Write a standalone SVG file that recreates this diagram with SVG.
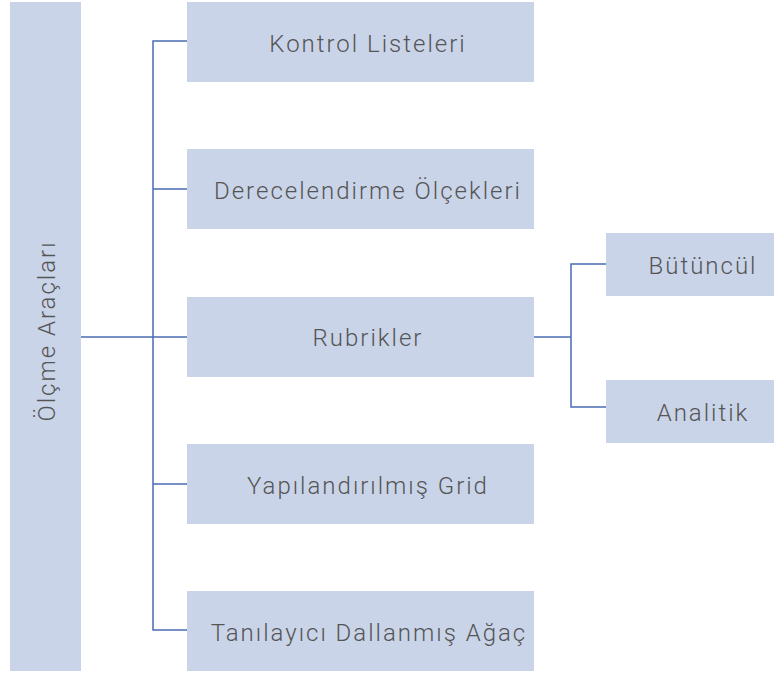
<svg xmlns="http://www.w3.org/2000/svg" width="774" height="675" viewBox="0 0 774 675">
<style>
.box{fill:#c9d4e8}
.t{font-family:Roboto,"Liberation Sans",sans-serif;font-weight:300;font-size:24px;letter-spacing:2px;fill:#555555;text-anchor:middle;dominant-baseline:central}
.c{stroke:#4a6cb3;stroke-width:1.5;fill:none}
</style>
<rect width="774" height="675" fill="#ffffff"/>
<g id="root"><rect class="box" x="10" y="2" width="71" height="669"/><text class="t" transform="translate(47 331) rotate(-90)">Ölçme Araçları</text></g>
<g id="n1"><rect class="box" x="187" y="2" width="347" height="80"/><text class="t" x="368" y="44">Kontrol Listeleri</text></g>
<g id="n2"><rect class="box" x="187" y="149" width="347" height="80"/><text class="t" x="368" y="191">Derecelendirme Ölçekleri</text></g>
<g id="n3"><rect class="box" x="187" y="297" width="347" height="80"/><text class="t" x="368" y="338">Rubrikler</text></g>
<g id="n4"><rect class="box" x="187" y="444" width="347" height="80"/><text class="t" x="368" y="486">Yapılandırılmış Grid</text></g>
<g id="n5"><rect class="box" x="187" y="591" width="347" height="80"/><text class="t" x="369" y="633">Tanılayıcı Dallanmış Ağaç</text></g>
<g id="n6"><rect class="box" x="606" y="233" width="168" height="63"/><text class="t" x="703" y="266">Bütüncül</text></g>
<g id="n7"><rect class="box" x="606" y="380" width="168" height="63"/><text class="t" x="703" y="413">Analitik</text></g>
<g id="connectors">
<path class="c" d="M81 337H187"/>
<path class="c" d="M187 41H153V630H187"/>
<path class="c" d="M153 189H187M153 484H187"/>
<path class="c" d="M534 337H571"/>
<path class="c" d="M606 264H571V407H606"/>
</g>
</svg>
